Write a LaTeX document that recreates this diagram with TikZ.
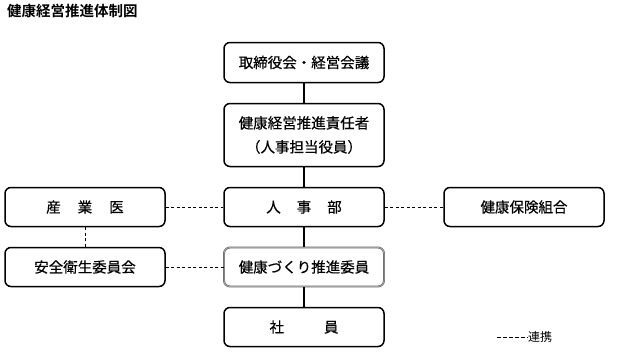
\documentclass[tikz,border=0pt]{standalone}
\usepackage{fontspec}
\setmainfont{Noto Sans CJK JP}[BoldFont={Noto Sans CJK JP Bold}]
\newfontfamily\boxfont{Noto Sans CJK JP}[FakeBold=0.5]
\tikzset{
  box/.style={draw, line width=1.5pt, rounded corners=6pt, minimum width=160pt,
    minimum height=39pt, align=center, inner sep=0pt,
    font=\boxfont\fontsize{14.5}{24}\selectfont},
  graybox/.style={draw=black!60, double=black!25, double distance=0.5pt, line width=0.7pt},
  tie/.style={line width=1.5pt},
  link/.style={line width=0.8pt, dash pattern=on 3pt off 2.5pt}
}
\begin{document}
\begin{tikzpicture}[x=1pt, y=-1pt]
    \useasboundingbox (0,0) rectangle (618,362);
    % 1. Title
    \node[anchor=west, inner sep=0pt, font=\bfseries\fontsize{14.5}{16}\selectfont] (title) at (7,11) {健康経営推進体制図};

    % 2. Boxes
    \node[box, minimum height=40pt] (board) at (304,62.5) {取締役会・経営会議};
    \node[box, minimum height=63pt] (chief) at (304,135) {健康経営推進責任者\\（人事担当役員）};
    \node[box] (hr) at (304,207) {人\hspace{16pt}事\hspace{16pt}部};
    \node[box, graybox] (promo) at (304,267) {健康づくり推進委員};
    \node[box] (staff) at (304,327) {社\hspace{40pt}員};
    \node[box] (doctor) at (85,207) {産\hspace{17pt}業\hspace{17pt}医};
    \node[box] (safety) at (85,267) {安全衛生委員会};
    \node[box] (union) at (524,207) {健康保険組合};

    % 3. Lines
    \draw[tie] (board) -- (chief);
    \draw[tie] (chief) -- (hr);
    \draw[tie] (hr) -- (promo);
    \draw[tie] (promo) -- (staff);
    \draw[link] (doctor) -- (hr);
    \draw[link] (hr) -- (union);
    \draw[link] (safety) -- (promo);
    \draw[link] (doctor) -- (safety);

    % 4. Legend
    \node[anchor=west, inner sep=0pt, font=\fontsize{12}{14}\selectfont] (legend) at (528,337) {連携};
    \coordinate (legstart) at (497,337);
    \draw[line width=0.8pt, dash pattern=on 4pt off 2pt] (legstart) -- (legend.west);
\end{tikzpicture}
\end{document}
